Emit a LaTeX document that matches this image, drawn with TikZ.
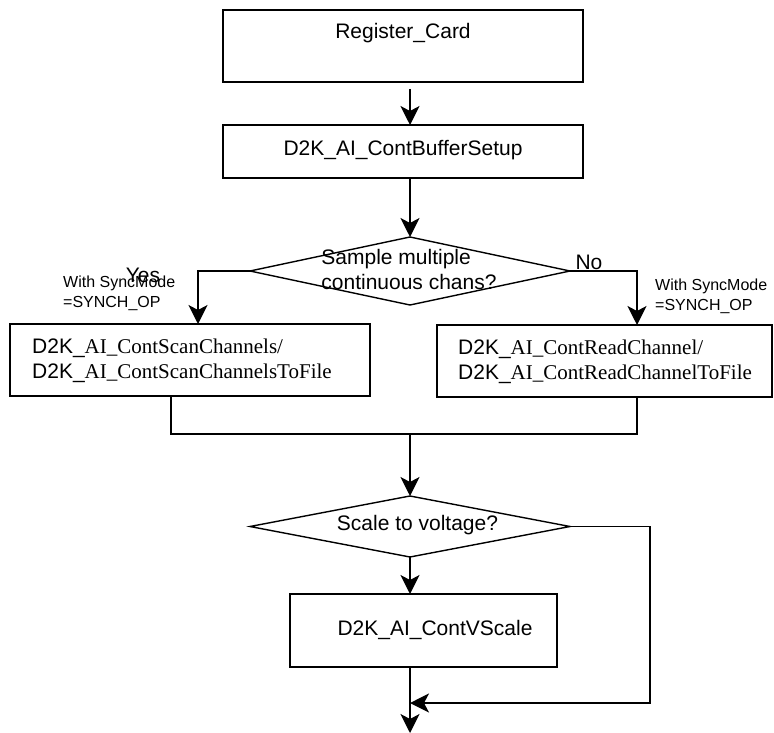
\documentclass[tikz,border=0pt]{standalone}
\usepackage{fontspec}
\setmainfont{Liberation Sans}
\newfontfamily\tms{Liberation Serif}
\usetikzlibrary{arrows.meta,shapes.geometric}
\tikzset{
  procbox/.style={draw, line width=1.4bp, inner sep=0pt, outer sep=0pt},
  decision/.style={draw, diamond, line width=1.4bp, inner sep=0pt, outer sep=0pt},
  txt/.style={font=\fontsize{21bp}{25bp}\selectfont, inner sep=0pt},
  smalltxt/.style={font=\fontsize{16bp}{20bp}\selectfont, inner sep=0pt, align=left},
  conn/.style={line width=1.4bp},
  arr/.style={conn, -{Stealth[length=19bp,width=19bp,inset=5bp]}}
}
\begin{document}
\begin{tikzpicture}[x=1bp,y=-1bp]
\useasboundingbox (0,0) rectangle (774,733);
% boxes
\node[procbox, minimum width=360bp, minimum height=72bp] (reg) at (403,46) {};
\node[txt] (regt) at (403,33) {Register\_Card};
\node[procbox, minimum width=360bp, minimum height=53bp] (buf) at (403,151.5) {};
\node[txt] (buft) at (403,150) {D2K\_AI\_ContBufferSetup};
\node[decision, minimum width=320bp, minimum height=68bp] (d1) at (410,271) {};
\node[txt, align=left] (d1t) at (409,269) {Sample multiple\\continuous chans?};
\node[procbox, minimum width=360bp, minimum height=72bp] (scan) at (190,360) {};
\node[txt, align=left, anchor=west] (scant) at (32,360.5) {D2K\_{\tms AI\_ContScanChannels/}\\D2K\_{\tms AI\_ContScanChannelsToFile}};
\node[procbox, minimum width=335bp, minimum height=72bp] (read) at (604.5,361) {};
\node[txt, align=left, anchor=west] (readt) at (458,361.5) {D2K\_{\tms AI\_ContReadChannel/}\\D2K\_{\tms AI\_ContReadChannelToFile}};
\node[decision, minimum width=320bp, minimum height=61bp] (d2) at (410,526.5) {};
\node[txt] (d2t) at (417.5,525) {Scale to voltage?};
\node[procbox, minimum width=267bp, minimum height=73bp] (vs) at (423.5,630.5) {};
\node[txt] (vst) at (435,630) {D2K\_AI\_ContVScale};
% labels
\node[txt] (yes) at (143,275) {Yes};
\node[smalltxt, anchor=west] (lsync) at (63,293) {With SyncMode\\=SYNCH\_OP};
\node[txt] (no) at (589,262) {No};
\node[smalltxt, anchor=west] (rsync) at (655,296) {With SyncMode\\=SYNCH\_OP};
% coordinates
\coordinate (m) at (410,434);
\coordinate (sb) at ([xshift=-19bp]scan.south);
\coordinate (rb) at ([xshift=32.5bp]read.south);
\coordinate (j) at (410,703);
\coordinate (loopx) at (650,0);
\coordinate (fin) at (410,733);
% connectors
\draw[arr, shorten <=7bp] (reg.south -| d1.north) -- (buf.north -| d1.north);
\draw[arr] (buf.south -| d1.north) -- (d1.north);
\draw[arr] (d1.west) -| ([xshift=8bp]scan.north);
\draw[arr] (d1.east) -| ([xshift=32.5bp]read.north);
\draw[conn] (sb) |- (m -| rb) -- (rb);
\draw[arr] (m) -- (d2.north);
\draw[arr] (d2.south) -- (vs.north -| d2.south);
\draw[arr] (d2.east) -| (loopx |- j) -- (j);
\draw[arr] (vs.south -| d2.south) -- (fin);
\end{tikzpicture}
\end{document}
